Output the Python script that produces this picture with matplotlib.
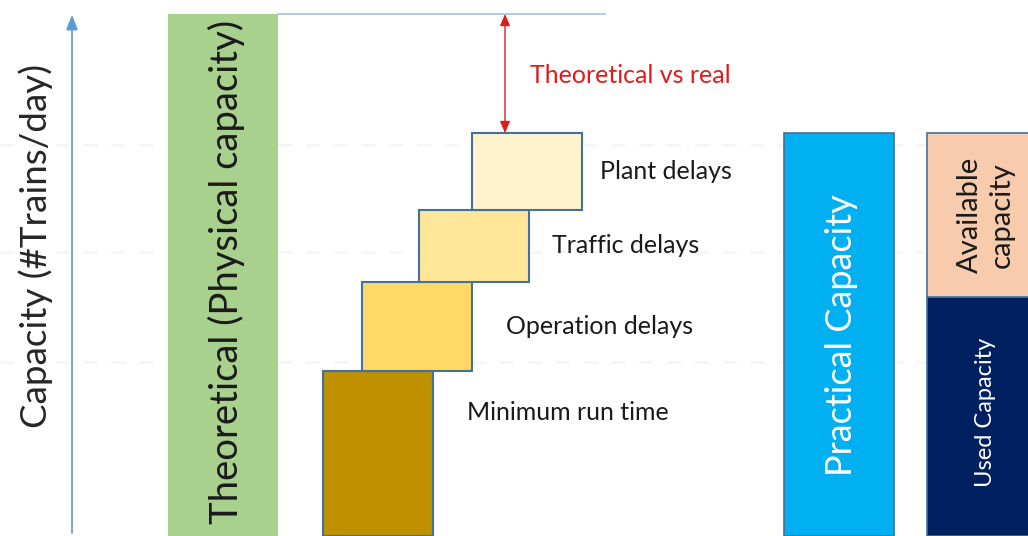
import matplotlib
matplotlib.use("Agg")
import matplotlib.pyplot as plt

plt.rcParams['font.family'] = ['Lato', 'DejaVu Sans']

# ---- data (capacity, % of theoretical) ----
theoretical = 100.0
step_labels = ["Minimum run time", "Operation delays", "Traffic delays", "Plant delays"]
step_values = [31.6, 17.1, 13.8, 14.7]
step_colors = ["#bf9000", "#ffd966", "#ffe699", "#fff2cc"]
used_capacity = 45.8

practical = sum(step_values)
available = practical - used_capacity

W, H = 1028, 536
fig = plt.figure(figsize=(W / 100, H / 100), dpi=100)
ax = fig.add_axes([0, 0, 1, 1])
scale = 522 / 100.0  # px per unit
ytop = H / scale
ax.set_xlim(0, W)
ax.set_ylim(0, ytop)
ax.axis("off")

def py(px):
    return (H - px) / scale

edge = "#41719c"

# faint dashed guide lines
for g in [py(145), py(252), py(362)]:
    ax.axhline(g, color="#f6f6f6", lw=2, ls=(0, (5, 5)), zorder=0)

# y axis arrow
ax.annotate("", xy=(72, py(12)), xytext=(72, 0),
            arrowprops=dict(arrowstyle="-|>,head_length=0.9,head_width=0.35",
                            color="#5b9bd5", lw=1.2))
ax.text(36, py(246), "Capacity (#Trains/day)", rotation=90, ha="center", va="center",
        fontsize=26.5, color="#262626")

# theoretical bar
ax.bar(223, theoretical, width=110, bottom=0, color="#a9d18e", edgecolor="none")
ax.text(226, py(272), "Theoretical (Physical capacity)", rotation=90,
        ha="center", va="center", fontsize=27.5, color="#1a1a1a")
ax.plot([278, 605], [theoretical, theoretical], color="#9dc3e6", lw=1.2)

# steps
step_x = [378, 416.5, 474, 527]
label_x = [467, 506, 552, 600]
label_frac = [0.75, 0.5, 0.5, 0.5]
bottom = 0
for x, v, c, lab, lx, fr in zip(step_x, step_values, step_colors, step_labels, label_x, label_frac):
    ax.bar(x, v, width=110, bottom=bottom, color=c, edgecolor=edge, linewidth=1.5)
    ax.text(lx, bottom + v * fr, lab, ha="left", va="center", fontsize=18, color="#1a1a1a")
    bottom += v

# theoretical vs real arrow
ax.annotate("", xy=(505, theoretical), xytext=(505, practical),
            arrowprops=dict(arrowstyle="<|-|>,head_length=0.7,head_width=0.3",
                            color="#e01b1b", lw=1.0, shrinkA=0, shrinkB=0))
ax.text(530, py(75), "Theoretical vs real", ha="left", va="center",
        fontsize=18, color="#e01b1b")

# practical capacity
ax.bar(839, practical, width=110, bottom=0, color="#00b0f0", edgecolor=edge, linewidth=1.2)
ax.text(842, py(335), "Practical Capacity", rotation=90, ha="center", va="center",
        fontsize=26, color="white")

# used / available
ax.bar(978, used_capacity, width=102, bottom=0, color="#002060", edgecolor=edge, linewidth=1.2)
ax.bar(978, available, width=102, bottom=used_capacity, color="#f8cbad", edgecolor=edge, linewidth=1.2)
ax.text(986, used_capacity + available / 2, "Available\ncapacity", rotation=90,
        ha="center", va="center", fontsize=21, color="#1a1a1a", linespacing=1.25)
ax.text(985, py(412), "Used Capacity", rotation=90, ha="center", va="center",
        fontsize=17, color="white")

fig.savefig("out.png", dpi=100)
